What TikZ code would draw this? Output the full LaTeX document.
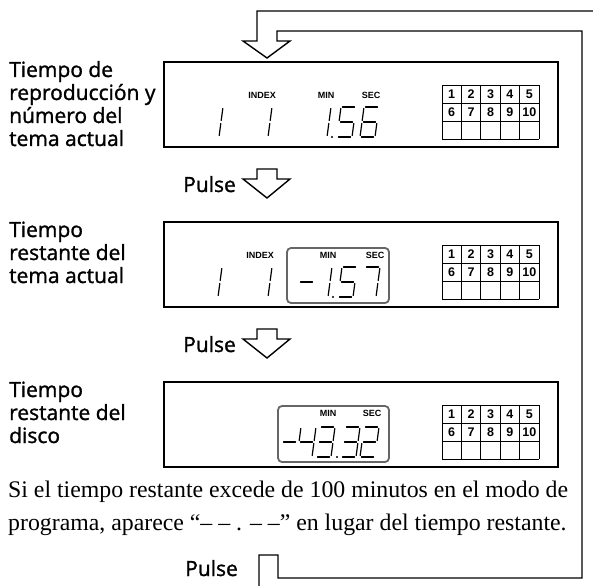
\documentclass[tikz,border=0pt]{standalone}
\usepackage{fontspec}
\setmainfont{Liberation Serif}
\newfontfamily\lblfont{Open Sans}[FakeBold=1.3]
\newfontfamily\arialfont{Liberation Sans}
\def\lcdsega{(5.5,-30) -- (17.5,-30)}
\def\lcdsegb{(18.8,-28.5) -- (17.2,-16.5)}
\def\lcdsegc{(16.8,-13.5) -- (15.2,-1.5)}
\def\lcdsegd{(1.5,0) -- (13.5,0)}
\def\lcdsege{(1.8,-13.5) -- (0.2,-1.5)}
\def\lcdsegf{(3.8,-28.5) -- (2.2,-16.5)}
\def\lcdsegg{(3.5,-15) -- (15.5,-15)}
\newcommand\lcddigit[3]{%
  \begin{scope}[shift={(#1,#2)}]
    \foreach \sg in {#3} {\edef\dotmp{\noexpand\draw[segline] \csname lcdseg\sg\endcsname;}\dotmp}
  \end{scope}}
\newcommand\lcdpoint[2]{\fill (#1,#2) circle (1.2);}
\newcommand\dispgrid[2]{%
  \foreach \i in {0,...,5} \draw[gridline] ({442+19.4*\i},#2) -- ({442+19.4*\i},{#2+54});
  \foreach \j in {0,...,3} \draw[gridline] (442,{#2+18*\j}) -- (539,{#2+18*\j});
  \foreach \n [count=\k from 0] in {1,...,10} {%
    \pgfmathtruncatemacro\col{mod(\k,5)}%
    \pgfmathtruncatemacro\row{\k/5}%
    \node[cellnum] (#1-\n) at ({442+19.4*\col+9.7},{#2+18*\row+9.3}) {\n};}}
\begin{document}
\begin{tikzpicture}[x=1pt,y=-1pt,
  lbl/.style={anchor=base west, inner sep=0, font=\lblfont\fontsize{21}{23}\selectfont},
  serif/.style={anchor=base west, inner sep=0, font=\fontsize{23.8}{26}\selectfont},
  disp/.style={draw, line width=2.2pt, minimum width=394, minimum height=85, anchor=north west, inner sep=0},
  tag/.style={font=\arialfont\bfseries\fontsize{9}{10}\selectfont, inner sep=0},
  cellnum/.style={font=\arialfont\bfseries\fontsize{12.5}{13}\selectfont, inner sep=0},
  gridline/.style={line width=0.9pt},
  segline/.style={line width=1.2pt, line cap=round},
  hollow/.style={draw, line width=1.4pt, line join=miter, fill=white},
  loopline/.style={line width=1.4pt, line join=miter},
  timebox/.style={draw=black!60, line width=1.8pt, rounded corners=4pt}]
\useasboundingbox (0,0) rectangle (593,585);
\clip (0,0) rectangle (593,585);
\fill[white] (0,0) rectangle (593,585);

% display boxes
\node[disp] (box1) at (163,61) {};
\node[disp] (box2) at (163,221) {};
\node[disp] (box3) at (163,381) {};

% track grids
\dispgrid{g1}{85}
\dispgrid{g2}{245}
\dispgrid{g3}{405}

% remaining-time frames
\draw[timebox] (287,248) rectangle (389,303);
\draw[timebox] (278,406) rectangle (389,462);

% tags
\node[tag] (idx1) at (262,95) {INDEX};
\node[tag] (min1) at (326,95) {MIN};
\node[tag] (sec1) at (371,95) {SEC};
\node[tag] (idx2) at (260,255) {INDEX};
\node[tag] (min2) at (328,255) {MIN};
\node[tag] (sec2) at (375,255) {SEC};
\node[tag] (min3) at (328,413) {MIN};
\node[tag] (sec3) at (372,413) {SEC};

% LCD digits box 1: 1 1 1.56
\lcddigit{204}{137}{b,c}
\lcddigit{253}{137}{b,c}
\lcddigit{312}{137}{b,c}
\lcdpoint{332}{137}
\lcddigit{337}{137}{a,f,g,c,d}
\lcddigit{360}{137}{a,f,g,e,c,d}

% box 2: 1 1 -1.57
\lcddigit{203}{297}{b,c}
\lcddigit{253}{297}{b,c}
\lcddigit{297}{297}{g}
\lcddigit{313}{297}{b,c}
\lcdpoint{333}{297}
\lcddigit{338}{297}{a,f,g,c,d}
\lcddigit{361}{297}{a,b,c}

% box 3: -43.32
\lcddigit{280}{457}{g}
\lcddigit{297}{457}{f,g,b,c}
\lcddigit{316}{457}{a,b,g,c,d}
\lcdpoint{337}{457}
\lcddigit{341}{457}{a,b,g,c,d}
\lcddigit{360}{457}{a,b,g,e,d}

% left labels
\node[lbl] (l1a) at (9,77) {Tiempo de};
\node[lbl] (l1b) at (9,100) {reproducción y};
\node[lbl] (l1c) at (9,123) {número del};
\node[lbl] (l1d) at (9,146) {tema actual};
\node[lbl] (l2a) at (9,237) {Tiempo};
\node[lbl] (l2b) at (9,260) {restante del};
\node[lbl] (l2c) at (9,283) {tema actual};
\node[lbl] (l3a) at (9,397) {Tiempo};
\node[lbl] (l3b) at (9,420) {restante del};
\node[lbl] (l3c) at (9,443) {disco};

% Pulse labels and arrows
\node[lbl] (p1) at (183,192) {Pulse};
\node[lbl] (p2) at (183,352) {Pulse};
\node[lbl] (p3) at (185,576) {Pulse};
\draw[hollow] (257,169) -- (277,169) -- (277,179) -- (290,179) -- (267,198) -- (243,179) -- (257,179) -- cycle;
\draw[hollow] (257,329) -- (277,329) -- (277,339) -- (290,339) -- (267,358) -- (243,339) -- (257,339) -- cycle;

% note
\node[serif] (n1) at (8,497) {Si el tiempo restante excede de 100 minutos en el modo de};
\node[serif] (n2) at (8,530) {programa, aparece “– – . – –” en lugar del tiempo restante.};

% return loop
\coordinate (outE) at (600,11);
\coordinate (tipT) at (267,58);
\coordinate (loopTR) at (582,31);
\coordinate (loopBR) at (582,578);
\coordinate (outS) at (259,600);
\draw[loopline] (outE) -- (257,11) -- (257,41) -- (243,41) -- (tipT) -- (290,41) -- (277,41) -- (277,31) -- (loopTR) -- (loopBR) -- (278,578) -- (278,555) -- (259,555) -- (outS);
\end{tikzpicture}
\end{document}
